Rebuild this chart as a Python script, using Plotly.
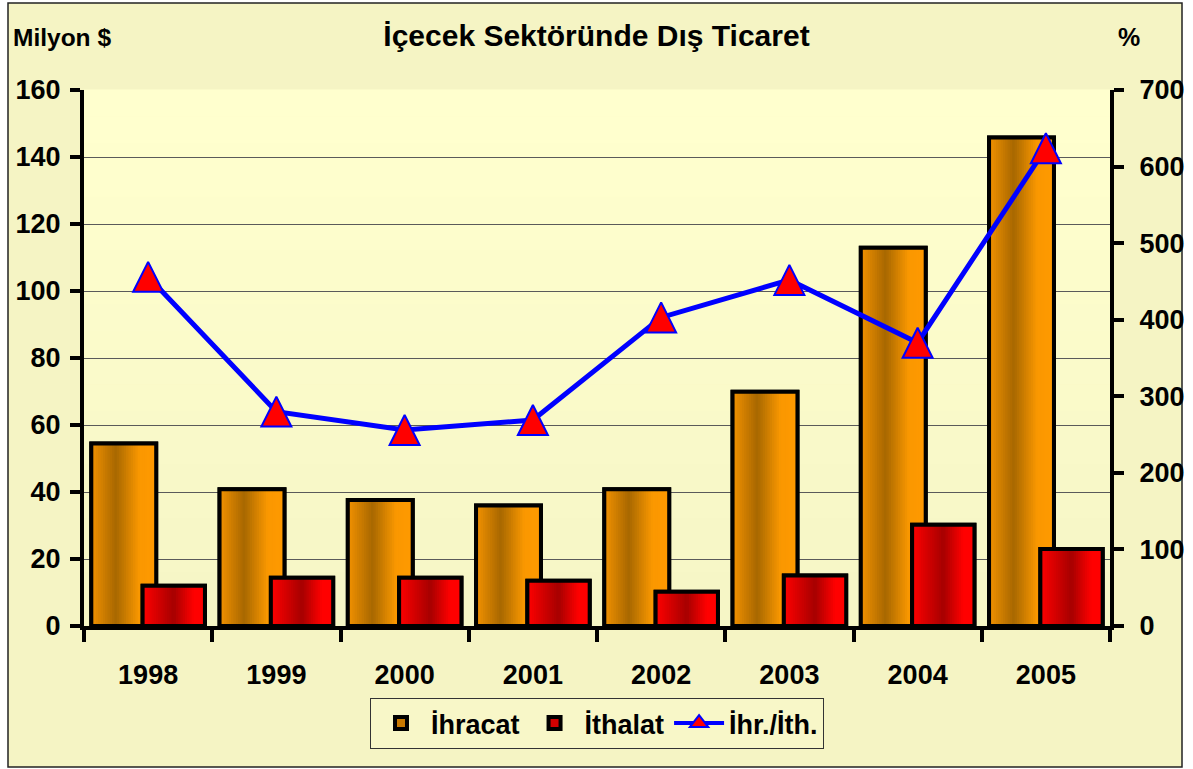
import plotly.graph_objects as go

# ---- data ----
years = ['1998', '1999', '2000', '2001', '2002', '2003', '2004', '2005']
ihracat = [54.5, 40.8, 37.6, 36.0, 40.8, 69.9, 112.9, 145.8]   # Milyon $
ithalat = [12.0, 14.4, 14.4, 13.5, 10.2, 15.1, 30.2, 23.0]     # Milyon $
oran = [456, 280, 256, 269, 403, 452, 370, 624]                # %
left_ticks = [0, 20, 40, 60, 80, 100, 120, 140, 160]
right_ticks = [0, 100, 200, 300, 400, 500, 600, 700]

FONT = 'Liberation Sans, Arial, sans-serif'

# ---- layout geometry (pixels) ----
W, H = 1193, 769
L, R, T, B = 84, 1110, 90, 626
pw, ph = R - L, B - T


def px_x(p):
    return (p - L) / pw


def px_y(p):
    return (B - p) / ph


def lerp_stops(stops, t):
    for (t0, c0), (t1, c1) in zip(stops[:-1], stops[1:]):
        if t0 <= t <= t1:
            f = 0 if t1 == t0 else (t - t0) / (t1 - t0)
            c = [round(a + (b - a) * f) for a, b in zip(c0, c1)]
            return 'rgb(%d,%d,%d)' % tuple(c)
    c = stops[-1][1]
    return 'rgb(%d,%d,%d)' % tuple(c)


orange_stops = [(0.0, (242, 146, 0)), (0.38, (168, 104, 0)), (0.74, (250, 152, 0)), (1.0, (255, 153, 0))]
red_stops = [(0.0, (255, 0, 0)), (0.5, (166, 0, 0)), (0.82, (255, 0, 0)), (1.0, (255, 0, 0))]

fig = go.Figure()

series = [
    ('İhracat', ihracat, -0.443, 0.506, orange_stops, 'rgb(200,120,0)'),
    ('İthalat', ithalat, -0.043, 0.486, red_stops, 'rgb(210,0,0)'),
]
N = 28
for name, vals, off, wd, stops, mid in series:
    # legend / base trace
    fig.add_trace(go.Bar(x=years, y=vals, name=name, offset=off, width=wd,
                         marker=dict(color=mid, line=dict(color='black', width=4)),
                         hoverinfo='skip'))
    # gradient strips
    for i in range(N):
        t = (i + 0.5) / N
        o = off + i * wd / N
        sw = min(wd / N * 1.8, wd - i * wd / N)
        fig.add_trace(go.Bar(x=years, y=vals, offset=o, width=sw, showlegend=False,
                             marker=dict(color=lerp_stops(stops, t), line=dict(width=0)),
                             hoverinfo='skip'))
    # outline
    fig.add_trace(go.Bar(x=years, y=vals, offset=off, width=wd, showlegend=False,
                         marker=dict(color='rgba(0,0,0,0)', line=dict(color='black', width=4)),
                         hoverinfo='skip'))

# ratio line (legend entry provided separately)
fig.add_trace(go.Scatter(x=years, y=oran, name='İhr./İth.', yaxis='y2', mode='lines+markers',
                         showlegend=False,
                         line=dict(color='#0000FF', width=5, backoff=0),
                         marker=dict(symbol='arrow-down', angle=180, size=30, standoff=15,
                                     color='#FF0000', line=dict(color='#0000FF', width=2))))
fig.add_trace(go.Scatter(x=[None], y=[None], name='İhr./İth.', yaxis='y2', mode='lines+markers',
                         line=dict(color='#0000FF', width=4),
                         marker=dict(symbol='triangle-up', size=16,
                                     color='#FF0000', line=dict(color='#0000FF', width=2))))

# background shapes: outer frame + plot-area gradient
shapes = [dict(type='rect', xref='paper', yref='paper', layer='below',
               x0=px_x(8), x1=px_x(1182), y0=px_y(767), y1=px_y(3),
               fillcolor='rgb(245,244,196)', line=dict(color='#222', width=1.5))]
nb = 20
for k in range(nb):
    f = k / (nb - 1)
    c = [round(a + (b - a) * f) for a, b in zip((255, 255, 206), (246, 246, 198))]
    shapes.append(dict(type='rect', xref='paper', yref='paper', layer='below',
                       x0=0, x1=1, y0=1 - (k + 1) / nb, y1=1 - k / nb + 0.001,
                       fillcolor='rgb(%d,%d,%d)' % tuple(c), line=dict(width=0)))

fig.update_layout(
    template='none',
    width=W, height=H,
    margin=dict(l=L, r=W - R, t=T, b=H - B, pad=0, autoexpand=False),
    paper_bgcolor='white', plot_bgcolor='rgba(0,0,0,0)',
    barmode='overlay', shapes=shapes,
    font=dict(family=FONT, color='black', weight='bold'),
    title=dict(text='İçecek Sektöründe Dış Ticaret', x=0.5, xanchor='center',
               y=1 - 35 / H, yanchor='middle', automargin=False,
               font=dict(size=30, family=FONT, weight='bold', color='black')),
    xaxis=dict(type='category', categoryorder='array', categoryarray=years, range=[-0.5, 7.5],
               automargin=False,
               showline=True, linecolor='black', linewidth=4, showgrid=False, zeroline=False,
               ticks='outside', tickson='boundaries', ticklen=12, tickwidth=4, tickcolor='black',
               ticklabelstandoff=22,
               tickfont=dict(size=27, family=FONT, weight='bold')),
    yaxis=dict(range=[0, 160], tickvals=left_ticks, showline=True, linecolor='black', linewidth=4,
               automargin=False,
               showgrid=True, gridcolor='#5a5a5a', gridwidth=1, zeroline=False,
               ticks='outside', ticklen=10, tickwidth=4, tickcolor='black', ticklabelstandoff=4,
               tickfont=dict(size=27, family=FONT, weight='bold')),
    yaxis2=dict(range=[0, 700], tickvals=right_ticks, overlaying='y', side='right',
                automargin=False,
                showline=True, linecolor='black', linewidth=4, showgrid=False, zeroline=False,
                ticks='outside', ticklen=10, tickwidth=4, tickcolor='black', ticklabelstandoff=10,
                tickfont=dict(size=27, family=FONT, weight='bold')),
    legend=dict(orientation='h', x=0.5, xanchor='center', y=px_y(698), yanchor='top',
                bgcolor='rgb(248,247,200)', bordercolor='#333', borderwidth=1,
                font=dict(size=27, family=FONT, weight='bold'), itemwidth=50,
                traceorder='normal'),
    annotations=[
        dict(text='Milyon $', xref='paper', yref='paper', x=px_x(11), y=px_y(37),
             xanchor='left', yanchor='middle', showarrow=False,
             font=dict(size=24.5, family=FONT, weight='bold')),
        dict(text='%', xref='paper', yref='paper', x=px_x(1129), y=px_y(37),
             xanchor='center', yanchor='middle', showarrow=False,
             font=dict(size=25, family=FONT, weight='bold')),
    ],
    showlegend=True,
)

fig.write_html('out.html', config={'displayModeBar': False},
               post_script="document.body.style.margin='0';document.body.style.padding='0';"
                           "document.body.style.overflow='hidden';")
